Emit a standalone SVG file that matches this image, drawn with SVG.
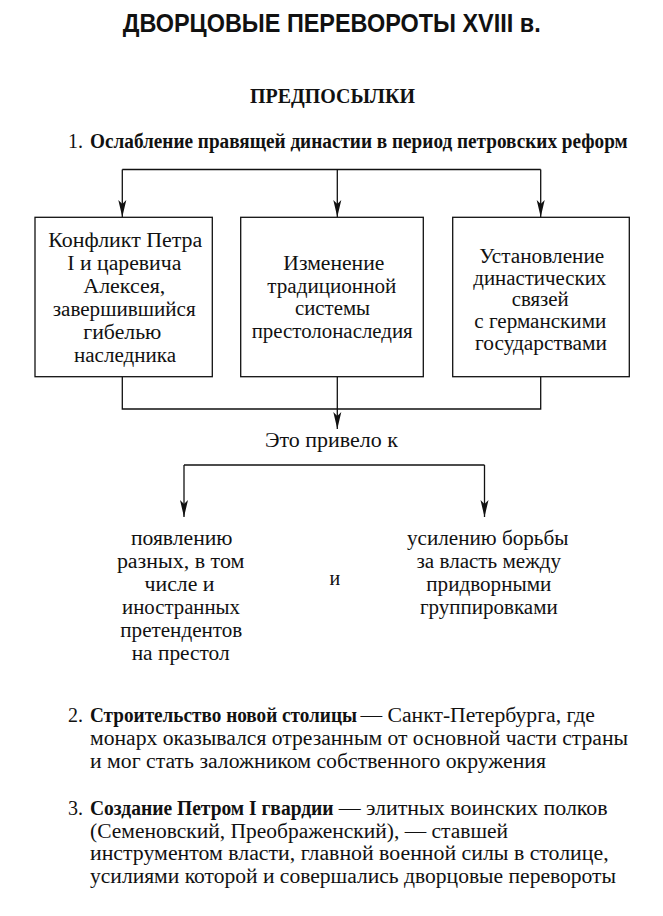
<svg xmlns="http://www.w3.org/2000/svg" width="663" height="916" viewBox="0 0 663 916" font-family="'Liberation Serif', 'Times New Roman', serif">
<style>
  text { fill: #111; }
  .title { font-weight: bold; font-size: 25px; }
  .t { font-size: 20px; }
  .b { font-weight: bold; }
  .h { font-size: 21px; font-weight: bold; }
  .box { fill: #fff; stroke: #111; stroke-width: 1.3; }
  .ln { fill: none; stroke: #111; stroke-width: 1.3; }
</style>
<defs>
  <marker id="ah" markerUnits="userSpaceOnUse" markerWidth="18" markerHeight="10" viewBox="0 -5 18 10" refX="17" refY="0" orient="auto">
    <path d="M0,-4 L17,0 L0,4 L4,0 Z" fill="#111"/>
  </marker>
</defs>
<rect width="663" height="916" fill="#fff"/>

<g id="header">
  <text class="title" font-family="'Liberation Sans', Arial, sans-serif" x="122.7" y="31.7" textLength="418" lengthAdjust="spacingAndGlyphs">ДВОРЦОВЫЕ ПЕРЕВОРОТЫ XVIII в.</text>
  <text class="h" x="250" y="103" textLength="165" lengthAdjust="spacingAndGlyphs">ПРЕДПОСЫЛКИ</text>
  <text class="t" x="68" y="148">1.</text>
  <text class="t b" x="90" y="148" textLength="537.7" lengthAdjust="spacingAndGlyphs">Ослабление правящей династии в период петровских реформ</text>
</g>

<g id="connectors">
  <path class="ln" d="M122.3,169.5 H540.7"/>
  <path class="ln" d="M122.3,169.5 V217" marker-end="url(#ah)"/>
  <path class="ln" d="M337.3,169.5 V217" marker-end="url(#ah)"/>
  <path class="ln" d="M540.7,169.5 V217" marker-end="url(#ah)"/>
  <path class="ln" d="M122.3,376.7 V409 H540.7 V376.7"/>
  <path class="ln" d="M337.3,376.7 V409"/>
  <path class="ln" d="M337.3,409 V429" marker-end="url(#ah)"/>
  <path class="ln" d="M184,465 H484.5"/>
  <path class="ln" d="M184,465 V517" marker-end="url(#ah)"/>
  <path class="ln" d="M484.5,465 V517" marker-end="url(#ah)"/>
</g>

<g id="box1">
  <rect class="box" x="35" y="217.3" width="177.3" height="159.4"/>
  <text class="t" x="48.3" y="247.3" textLength="154" lengthAdjust="spacingAndGlyphs">Конфликт Петра</text>
  <text class="t" x="67.3" y="270.2" textLength="114" lengthAdjust="spacingAndGlyphs">I и царевича</text>
  <text class="t" x="83.3" y="293.1" textLength="82" lengthAdjust="spacingAndGlyphs">Алексея,</text>
  <text class="t" x="52.7" y="316" textLength="143" lengthAdjust="spacingAndGlyphs">завершившийся</text>
  <text class="t" x="83.3" y="338.9" textLength="78" lengthAdjust="spacingAndGlyphs">гибелью</text>
  <text class="t" x="74" y="361.8" textLength="102" lengthAdjust="spacingAndGlyphs">наследника</text>
</g>

<g id="box2">
  <rect class="box" x="240.7" y="217.3" width="182.6" height="159.4"/>
  <text class="t" x="283.3" y="270" textLength="101" lengthAdjust="spacingAndGlyphs">Изменение</text>
  <text class="t" x="267.3" y="292.5" textLength="129" lengthAdjust="spacingAndGlyphs">традиционной</text>
  <text class="t" x="295" y="315" textLength="75" lengthAdjust="spacingAndGlyphs">системы</text>
  <text class="t" x="251.7" y="337.7" textLength="161" lengthAdjust="spacingAndGlyphs">престолонаследия</text>
</g>

<g id="box3">
  <rect class="box" x="452.7" y="217.3" width="176.6" height="159.4"/>
  <text class="t" x="479.3" y="262.5" textLength="125" lengthAdjust="spacingAndGlyphs">Установление</text>
  <text class="t" x="473.3" y="284.5" textLength="133" lengthAdjust="spacingAndGlyphs">династических</text>
  <text class="t" x="511.7" y="306.3" textLength="57" lengthAdjust="spacingAndGlyphs">связей</text>
  <text class="t" x="474.3" y="328" textLength="132" lengthAdjust="spacingAndGlyphs">с германскими</text>
  <text class="t" x="475" y="350" textLength="132" lengthAdjust="spacingAndGlyphs">государствами</text>
</g>

<g id="result">
  <text class="t" x="265" y="446.7" textLength="133" lengthAdjust="spacingAndGlyphs">Это привело к</text>
</g>

<g id="consequence1">
  <text class="t" x="130.9" y="545" textLength="101.6" lengthAdjust="spacingAndGlyphs">появлению</text>
  <text class="t" x="116.9" y="568" textLength="127.5" lengthAdjust="spacingAndGlyphs">разных, в том</text>
  <text class="t" x="144.5" y="591" textLength="70" lengthAdjust="spacingAndGlyphs">числе и</text>
  <text class="t" x="122" y="614" textLength="118" lengthAdjust="spacingAndGlyphs">иностранных</text>
  <text class="t" x="120.3" y="637" textLength="122" lengthAdjust="spacingAndGlyphs">претендентов</text>
  <text class="t" x="131.7" y="659.5" textLength="98" lengthAdjust="spacingAndGlyphs">на престол</text>
</g>

<g id="and">
  <text class="t" x="329.4" y="585">и</text>
</g>

<g id="consequence2">
  <text class="t" x="407" y="545" textLength="161.5" lengthAdjust="spacingAndGlyphs">усилению борьбы</text>
  <text class="t" x="416.5" y="568" textLength="144.5" lengthAdjust="spacingAndGlyphs">за власть между</text>
  <text class="t" x="426.3" y="591" textLength="125" lengthAdjust="spacingAndGlyphs">придворными</text>
  <text class="t" x="420" y="614" textLength="137.7" lengthAdjust="spacingAndGlyphs">группировками</text>
</g>

<g id="item2">
  <text class="t" x="68" y="721.7">2.</text>
  <text class="t b" x="90" y="721.7" textLength="267" lengthAdjust="spacingAndGlyphs">Строительство новой столицы</text>
  <text class="t" x="360.4" y="721.7" textLength="234.6" lengthAdjust="spacingAndGlyphs">— Санкт-Петербурга, где</text>
  <text class="t" x="90" y="745" textLength="538" lengthAdjust="spacingAndGlyphs">монарх оказывался отрезанным от основной части страны</text>
  <text class="t" x="90" y="767.5" textLength="456" lengthAdjust="spacingAndGlyphs">и мог стать заложником собственного окружения</text>
</g>

<g id="item3">
  <text class="t" x="68" y="815">3.</text>
  <text class="t b" x="90" y="815" textLength="243.6" lengthAdjust="spacingAndGlyphs">Создание Петром I гвардии</text>
  <text class="t" x="338.7" y="815" textLength="269" lengthAdjust="spacingAndGlyphs">— элитных воинских полков</text>
  <text class="t" x="90" y="837.7" textLength="418" lengthAdjust="spacingAndGlyphs">(Семеновский, Преображенский), — ставшей</text>
  <text class="t" x="90" y="860.3" textLength="518.6" lengthAdjust="spacingAndGlyphs">инструментом власти, главной военной силы в столице,</text>
  <text class="t" x="90" y="883" textLength="526" lengthAdjust="spacingAndGlyphs">усилиями которой и совершались дворцовые перевороты</text>
</g>
</svg>
